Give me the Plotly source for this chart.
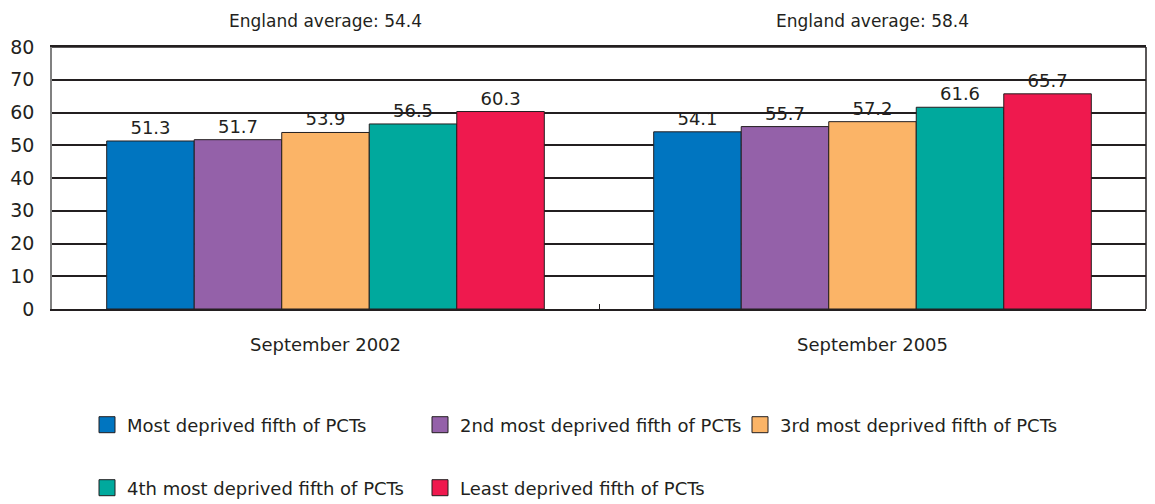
import plotly.graph_objects as go

periods = ["September 2002", "September 2005"]
england_avg = [54.4, 58.4]
groups = [
    "Most deprived fifth of PCTs",
    "2nd most deprived fifth of PCTs",
    "3rd most deprived fifth of PCTs",
    "4th most deprived fifth of PCTs",
    "Least deprived fifth of PCTs",
]
values = [
    [51.3, 54.1],
    [51.7, 55.7],
    [53.9, 57.2],
    [56.5, 61.6],
    [60.3, 65.7],
]
colors = ["#0075c0", "#9461a9", "#fbb467", "#00a99d", "#ef194e"]
y_ticks = [0, 10, 20, 30, 40, 50, 60, 70, 80]

FONT = "DejaVu Sans"
DARK = "#231f20"
W, H = 1147, 496  # page body adds an 8px margin in the browser

# legend item anchors (left x, centre y) in figure pixels
legend_pos = [(79, 417), (412, 417), (732, 417), (79, 480), (412, 480)]
legend_ids = ["legend", "legend2", "legend3", "legend4", "legend5"]

fig = go.Figure()
for i, (name, vals, col) in enumerate(zip(groups, values, colors)):
    fig.add_trace(go.Bar(
        x=periods, y=vals, name=name,
        marker=dict(color=col, line=dict(color=DARK, width=1)),
        text=[f"{v:.1f}" for v in vals],
        textposition="outside",
        textfont=dict(size=18, color=DARK, family=FONT),
        cliponaxis=False,
        showlegend=False,
    ))
    # legend-only entry with a larger square swatch
    fig.add_trace(go.Scatter(
        x=[None], y=[None], mode="markers", name=name,
        marker=dict(symbol="square", size=16, color=col,
                    line=dict(color=DARK, width=1)),
        legend=legend_ids[i],
    ))

for p, avg in zip(periods, england_avg):
    fig.add_annotation(
        x=p, y=1, xref="x", yref="paper", yanchor="bottom", yshift=14,
        text=f"England average: {avg}", showarrow=False,
        font=dict(size=17, color=DARK, family=FONT),
    )

legends = {}
for lid, (lx, ly) in zip(legend_ids, legend_pos):
    legends[lid] = dict(
        orientation="h", xanchor="left", yanchor="middle",
        xref="container", yref="container",
        x=lx / W, y=1 - ly / H,
        font=dict(size=18, color=DARK, family=FONT),
        bgcolor="rgba(0,0,0,0)", itemclick=False,
    )

fig.update_layout(
    barmode="group", bargap=0.2, bargroupgap=0,
    width=W, height=H,
    margin=dict(l=44, r=9, t=39, b=195),
    plot_bgcolor="white", paper_bgcolor="white",
    font=dict(family=FONT, size=18, color=DARK),
    xaxis=dict(
        automargin=False,
        showline=True, linecolor=DARK, linewidth=2, mirror=True,
        ticks="inside", tickson="boundaries", ticklen=5, tickcolor=DARK,
        ticklabelstandoff=18,
        tickfont=dict(size=18, color=DARK, family=FONT),
    ),
    yaxis=dict(
        automargin=False,
        range=[0, 80], tickvals=y_ticks,
        showgrid=True, gridcolor=DARK, gridwidth=1.5,
        showline=True, linecolor="#808080", linewidth=1.5,
        zeroline=False, ticks="", ticklabelstandoff=12,
        tickfont=dict(size=19, color=DARK, family=FONT),
    ),
    **legends,
)
fig.add_shape(type="line", xref="paper", yref="paper", x0=1, x1=1, y0=0, y1=1,
              line=dict(color=DARK, width=1.5))
fig.add_shape(type="line", xref="paper", yref="paper", x0=0, x1=1, y0=1, y1=1,
              line=dict(color=DARK, width=1.5))

fig.write_html("out.html")
